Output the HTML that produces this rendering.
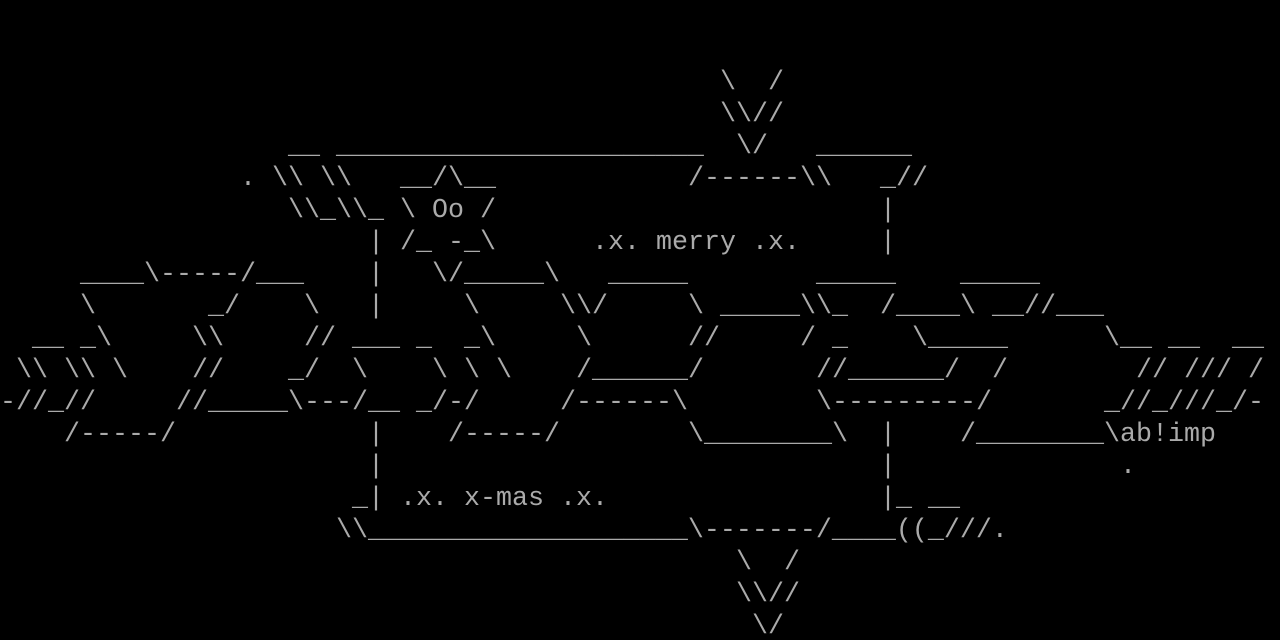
<!DOCTYPE html>
<html><head><meta charset="utf-8"><style>
html,body{margin:0;padding:0;background:#000;width:1280px;height:640px;overflow:hidden}
#s{position:relative;top:3px;width:1280px;height:637px;font-family:"Liberation Mono","DejaVu Sans Mono",monospace;font-size:26.67px;line-height:32px;color:#aaaaaa}
#s i{position:absolute;font-style:normal;white-space:pre;height:32px}
</style></head><body><div id="s">
<i style="left:720px;top:64px">\  /</i>
<i style="left:720px;top:96px">\\//</i>
<i style="left:288px;top:128px">__</i>
<i style="left:336px;top:128px">_______________________</i>
<i style="left:736px;top:128px">\/</i>
<i style="left:816px;top:128px">______</i>
<i style="left:240px;top:160px">.</i>
<i style="left:272px;top:160px">\\</i>
<i style="left:320px;top:160px">\\</i>
<i style="left:400px;top:160px">__/\__</i>
<i style="left:688px;top:160px">/------\\</i>
<i style="left:880px;top:160px">_//</i>
<i style="left:288px;top:192px">\\_\\_</i>
<i style="left:400px;top:192px">\ Oo /</i>
<i style="left:880px;top:192px">|</i>
<i style="left:368px;top:224px">| /_ -_\</i>
<i style="left:592px;top:224px">.x. merry .x.</i>
<i style="left:880px;top:224px">|</i>
<i style="left:80px;top:256px">____\-----/___</i>
<i style="left:368px;top:256px">|</i>
<i style="left:432px;top:256px">\/_____\</i>
<i style="left:608px;top:256px">_____</i>
<i style="left:816px;top:256px">_____</i>
<i style="left:960px;top:256px">_____</i>
<i style="left:80px;top:288px">\</i>
<i style="left:208px;top:288px">_/</i>
<i style="left:304px;top:288px">\</i>
<i style="left:368px;top:288px">|</i>
<i style="left:464px;top:288px">\</i>
<i style="left:560px;top:288px">\\/</i>
<i style="left:688px;top:288px">\ _____\\_</i>
<i style="left:880px;top:288px">/____\ __//___</i>
<i style="left:32px;top:320px">__ _\</i>
<i style="left:192px;top:320px">\\</i>
<i style="left:304px;top:320px">//</i>
<i style="left:352px;top:320px">___ _  _\</i>
<i style="left:576px;top:320px">\</i>
<i style="left:688px;top:320px">//</i>
<i style="left:800px;top:320px">/ _</i>
<i style="left:912px;top:320px">\_____</i>
<i style="left:1104px;top:320px">\__ __  __</i>
<i style="left:16px;top:352px">\\ \\ \</i>
<i style="left:192px;top:352px">//</i>
<i style="left:288px;top:352px">_/</i>
<i style="left:352px;top:352px">\</i>
<i style="left:432px;top:352px">\ \ \</i>
<i style="left:576px;top:352px">/______/</i>
<i style="left:816px;top:352px">//______/</i>
<i style="left:992px;top:352px">/</i>
<i style="left:1136px;top:352px">// /// /</i>
<i style="left:0px;top:384px">-//_//</i>
<i style="left:176px;top:384px">//_____\---/__ _/-/</i>
<i style="left:560px;top:384px">/------\</i>
<i style="left:816px;top:384px">\---------/</i>
<i style="left:1104px;top:384px">_//_///_/-</i>
<i style="left:64px;top:416px">/-----/</i>
<i style="left:368px;top:416px">|</i>
<i style="left:448px;top:416px">/-----/</i>
<i style="left:688px;top:416px">\________\</i>
<i style="left:880px;top:416px">|</i>
<i style="left:960px;top:416px">/________\ab!imp</i>
<i style="left:368px;top:448px">|</i>
<i style="left:880px;top:448px">|</i>
<i style="left:1120px;top:448px">.</i>
<i style="left:352px;top:480px">_| .x. x-mas .x.</i>
<i style="left:880px;top:480px">|_ __</i>
<i style="left:336px;top:512px">\\____________________\-------/____((_///.</i>
<i style="left:736px;top:544px">\  /</i>
<i style="left:736px;top:576px">\\//</i>
<i style="left:752px;top:608px">\/</i>
</div></body></html>
